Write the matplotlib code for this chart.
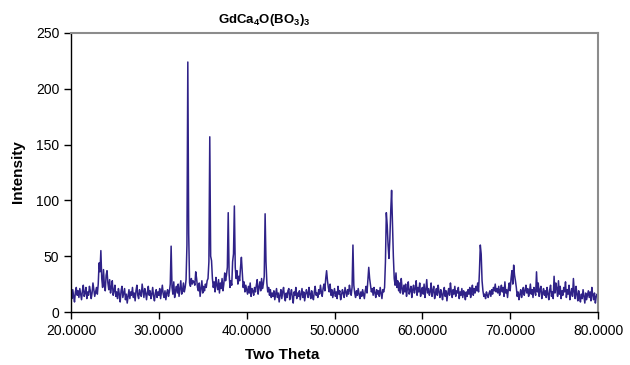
import numpy as np
import matplotlib
matplotlib.use("Agg")
import matplotlib.pyplot as plt

# two theta from 20 to 80 in 0.1 deg steps, one row per degree
two_theta_start = 20.0
two_theta_step = 0.1
intensity_rows = [
    [17, 12, 20, 14, 9, 18, 22, 15, 19, 13],      # 20
    [21, 16, 11, 19, 24, 14, 17, 22, 12, 18],     # 21
    [15, 23, 19, 12, 17, 26, 20, 14, 18, 22],     # 22
    [16, 25, 44, 36, 55, 30, 22, 38, 24, 19],     # 23
    [33, 37, 26, 20, 29, 17, 22, 28, 15, 19],     # 24
    [24, 14, 18, 12, 21, 16, 9, 19, 23, 13],      # 25
    [17, 21, 11, 16, 8, 14, 20, 12, 18, 15],      # 26
    [22, 13, 17, 10, 19, 24, 15, 12, 20, 16],     # 27
    [14, 25, 19, 13, 21, 17, 11, 18, 23, 15],     # 28
    [19, 12, 16, 22, 14, 10, 17, 20, 13, 18],     # 29
    [15, 21, 12, 18, 24, 16, 13, 19, 11, 17],     # 30
    [20, 14, 18, 25, 59, 22, 16, 27, 13, 19],     # 31
    [23, 17, 25, 14, 21, 28, 16, 19, 26, 18],     # 32
    [22, 29, 60, 224, 70, 26, 23, 30, 25, 28],    # 33
    [27, 24, 36, 30, 22, 19, 26, 14, 21, 28],     # 34
    [17, 23, 19, 25, 22, 28, 30, 45, 157, 50],    # 35
    [46, 30, 22, 27, 18, 31, 24, 20, 29, 17],     # 36
    [26, 21, 30, 19, 25, 35, 28, 33, 40, 89],     # 37
    [35, 22, 28, 24, 45, 52, 95, 40, 30, 37],     # 38
    [25, 32, 28, 40, 49, 36, 22, 27, 18, 24],     # 39
    [20, 16, 23, 17, 26, 14, 21, 19, 15, 22],     # 40
    [18, 24, 29, 16, 22, 27, 19, 30, 21, 25],     # 41
    [32, 88, 45, 26, 18, 22, 15, 20, 13, 17],     # 42
    [14, 19, 11, 16, 21, 13, 17, 9, 15, 20],      # 43
    [12, 18, 22, 14, 10, 17, 13, 19, 21, 11],     # 44
    [16, 20, 13, 8, 18, 15, 22, 12, 17, 14],      # 45
    [19, 11, 16, 21, 13, 18, 10, 15, 20, 17],     # 46
    [13, 22, 16, 12, 19, 14, 11, 18, 23, 15],     # 47
    [17, 13, 20, 16, 24, 18, 14, 21, 25, 19],     # 48
    [30, 37, 28, 22, 18, 25, 15, 20, 13, 17],     # 49
    [21, 14, 18, 12, 23, 16, 19, 11, 15, 20],     # 50
    [17, 13, 22, 18, 14, 20, 16, 24, 19, 15],     # 51
    [22, 60, 24, 17, 13, 19, 15, 21, 16, 12],     # 52
    [18, 14, 20, 16, 12, 19, 23, 17, 28, 40],     # 53
    [30, 24, 18, 21, 15, 22, 17, 13, 20, 16],     # 54
    [19, 14, 22, 17, 12, 20, 18, 22, 45, 89],     # 55
    [78, 60, 48, 65, 90, 109, 81, 50, 30, 24],    # 56
    [35, 22, 28, 19, 26, 17, 30, 21, 16, 24],     # 57
    [18, 25, 14, 21, 27, 16, 19, 23, 13, 20],     # 58
    [24, 17, 21, 28, 15, 22, 18, 26, 14, 19],     # 59
    [22, 16, 25, 13, 20, 29, 17, 21, 15, 18],     # 60
    [26, 14, 19, 23, 12, 17, 21, 15, 24, 18],     # 61
    [13, 20, 16, 11, 18, 22, 14, 19, 10, 17],     # 62
    [21, 15, 26, 18, 13, 20, 16, 23, 14, 19],     # 63
    [17, 22, 12, 18, 15, 21, 13, 19, 16, 11],     # 64
    [18, 14, 20, 16, 22, 13, 19, 24, 15, 21],     # 65
    [17, 23, 19, 26, 18, 36, 60, 52, 28, 19],     # 66
    [14, 16, 12, 18, 15, 13, 17, 19, 14, 20],     # 67
    [16, 22, 19, 25, 18, 21, 17, 23, 15, 20],     # 68
    [24, 18, 22, 14, 27, 17, 20, 13, 21, 26],     # 69
    [19, 30, 37, 25, 42, 33, 28, 22, 14, 18],     # 70
    [11, 16, 20, 13, 18, 22, 15, 19, 24, 17],     # 71
    [21, 14, 18, 25, 16, 20, 13, 22, 19, 15],     # 72
    [36, 18, 26, 14, 20, 23, 12, 17, 21, 15],     # 73
    [19, 13, 22, 16, 11, 20, 24, 14, 18, 12],     # 74
    [32, 17, 26, 21, 14, 28, 16, 23, 12, 19],     # 75
    [15, 22, 18, 27, 13, 20, 16, 24, 11, 17],     # 76
    [21, 14, 30, 18, 12, 23, 16, 10, 19, 13],     # 77
    [9, 16, 12, 20, 14, 8, 17, 11, 15, 19],       # 78
    [13, 18, 10, 22, 15, 11, 17, 8, 14, 16],      # 79
    [12],                                         # 80
]
x_ticks = [20, 30, 40, 50, 60, 70, 80]
y_ticks = [0, 50, 100, 150, 200, 250]

intensity = [v for row in intensity_rows for v in row]
two_theta = two_theta_start + two_theta_step * np.arange(len(intensity))

plt.rcParams["font.family"] = ["Liberation Sans", "DejaVu Sans"]
plt.rcParams["mathtext.default"] = "regular"

fig = plt.figure(figsize=(6.3, 3.65), dpi=100)
ax = fig.add_axes([71 / 630, 1 - 312 / 365, 527 / 630, 279 / 365])

ax.plot(two_theta, intensity, color="#2f2288", linewidth=1.1)

ax.set_xlim(20, 80)
ax.set_ylim(0, 250)
ax.set_xticks(x_ticks)
ax.set_xticklabels(["%.4f" % t for t in x_ticks])
ax.set_yticks(y_ticks)
ax.tick_params(direction="out", length=5, width=1, labelsize=10, colors="black")

for side in ["left", "bottom"]:
    ax.spines[side].set_color("black")
    ax.spines[side].set_linewidth(1)
for side in ["top", "right"]:
    ax.spines[side].set_color("#8c8c8c")
    ax.spines[side].set_linewidth(1.5)

fig.text(264 / 630, 1 - 20 / 365, r"GdCa$_4$O(BO$_3$)$_3$", ha="center", va="center",
         fontsize=9.5, fontweight="bold")
fig.text(282 / 630, 1 - 355 / 365, "Two Theta", ha="center", va="center",
         fontsize=11, fontweight="bold")
fig.text(18 / 630, 1 - 172 / 365, "Intensity", ha="center", va="center",
         fontsize=11, fontweight="bold", rotation=90)

fig.savefig("out.png", dpi=100)
